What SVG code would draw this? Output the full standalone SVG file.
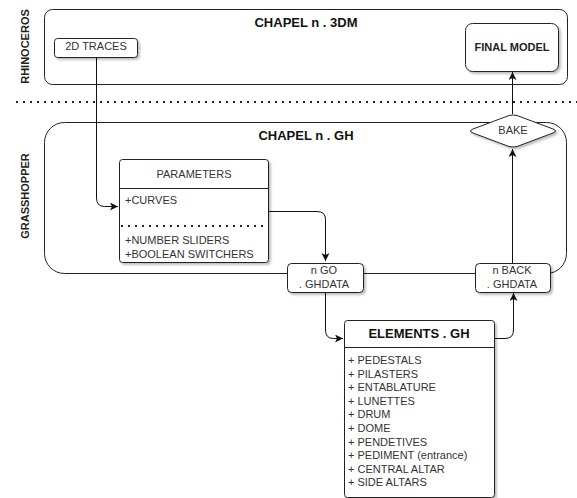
<svg xmlns="http://www.w3.org/2000/svg" width="577" height="498" viewBox="0 0 577 498">
<style>
text{font-family:"Liberation Sans",Arial,sans-serif;}
.lbl{font-size:11px;font-weight:bold;fill:#222;}
.ttl{font-size:13px;font-weight:bold;fill:#111;text-anchor:middle;}
.t{font-size:11px;fill:#333;}
.c{text-anchor:middle;}
.box{fill:#fff;stroke:#222;stroke-width:1;}
.cont{fill:#fff;stroke:#222;stroke-width:1;}
.edge{fill:none;stroke:#111;stroke-width:1;}
</style>
<defs>
<filter id="sh" x="-20%" y="-20%" width="150%" height="150%">
<feDropShadow dx="2" dy="2" stdDeviation="1" flood-color="#000" flood-opacity="0.25"/>
</filter>
<marker id="arr" markerWidth="10" markerHeight="10" refX="8" refY="4" orient="auto" markerUnits="userSpaceOnUse">
<path d="M0,0 L8,4 L0,8 L2,4 Z" fill="#111"/>
</marker>
</defs>

<g id="rhino-container">
<rect class="cont" x="44.5" y="9.5" width="523" height="75" rx="8"/>
<text class="ttl" x="306" y="27">CHAPEL n . 3DM</text>
<text class="lbl" transform="translate(28.5,46.5) rotate(-90)" text-anchor="middle">RHINOCEROS</text>
</g>

<g id="grasshopper-container">
<rect class="cont" x="44.5" y="122.5" width="522" height="151" rx="20"/>
<text class="ttl" x="306" y="140">CHAPEL n . GH</text>
<text class="lbl" transform="translate(29,196) rotate(-90)" text-anchor="middle">GRASSHOPPER</text>
</g>

<line id="separator" x1="16" y1="102" x2="577" y2="102" stroke="#222" stroke-width="2" stroke-dasharray="2 5"/>

<g id="connectors">
<path class="edge" d="M96.5,57 V198 Q96.5,206.5 104.5,206.5 H118" marker-end="url(#arr)"/>
<path class="edge" d="M268,211.5 H317 Q325.5,211.5 325.5,219.5 V261" marker-end="url(#arr)"/>
<path class="edge" d="M325.5,292 V330 Q325.5,338.5 333.5,338.5 H343" marker-end="url(#arr)"/>
<path class="edge" d="M494,338.5 H505 Q513.5,338.5 513.5,330 V293" marker-end="url(#arr)"/>
<path class="edge" d="M512.5,263 V149" marker-end="url(#arr)"/>
<path class="edge" d="M512.5,114 V72" marker-end="url(#arr)"/>
</g>

<g id="traces2d">
<rect class="box" filter="url(#sh)" x="54.5" y="38.5" width="83" height="19" rx="3"/>
<text class="t c" x="96" y="50">2D TRACES</text>
</g>

<g id="final-model">
<rect class="box" filter="url(#sh)" x="465.5" y="23.5" width="93" height="48" rx="7"/>
<text class="lbl c" x="512" y="51">FINAL MODEL</text>
</g>

<g id="bake">
<path class="box" filter="url(#sh)" d="M505,117 Q513,113 521,117 L553,129 Q558,131 553,133 L521,145 Q513,149 505,145 L473,133 Q468,131 473,129 Z"/>
<text class="t c" x="513" y="134">BAKE</text>
</g>

<g id="parameters">
<rect class="box" filter="url(#sh)" x="119.5" y="159.5" width="149" height="103" rx="3"/>
<line x1="119.5" y1="188.5" x2="268.5" y2="188.5" stroke="#222"/>
<text class="t c" x="194" y="178">PARAMETERS</text>
<text class="t" x="125" y="204">+CURVES</text>
<line x1="121" y1="226" x2="268" y2="226" stroke="#222" stroke-width="2" stroke-dasharray="2 5"/>
<text class="t" x="125" y="244">+NUMBER SLIDERS</text>
<text class="t" x="125" y="258">+BOOLEAN SWITCHERS</text>
</g>

<g id="n-go">
<rect class="box" filter="url(#sh)" x="287.5" y="263.5" width="76" height="29" rx="4"/>
<text class="t c" x="324" y="274">n GO</text>
<text class="t c" x="324" y="288">. GHDATA</text>
</g>

<g id="n-back">
<rect class="box" filter="url(#sh)" x="475.5" y="263.5" width="75" height="29" rx="4"/>
<text class="t c" x="512" y="274">n BACK</text>
<text class="t c" x="512" y="288">. GHDATA</text>
</g>

<g id="elements">
<rect class="box" filter="url(#sh)" x="344.5" y="320.5" width="150" height="177" rx="3"/>
<line x1="344.5" y1="347.5" x2="494.5" y2="347.5" stroke="#222"/>
<text class="ttl" x="419" y="338">ELEMENTS . GH</text>
<text class="t" x="348" y="364">+ PEDESTALS</text>
<text class="t" x="348" y="377.6">+ PILASTERS</text>
<text class="t" x="348" y="391.2">+ ENTABLATURE</text>
<text class="t" x="348" y="404.8">+ LUNETTES</text>
<text class="t" x="348" y="418.4">+ DRUM</text>
<text class="t" x="348" y="432">+ DOME</text>
<text class="t" x="348" y="445.6">+ PENDETIVES</text>
<text class="t" x="348" y="459.2">+ PEDIMENT (entrance)</text>
<text class="t" x="348" y="472.8">+ CENTRAL ALTAR</text>
<text class="t" x="348" y="486.4">+ SIDE ALTARS</text>
</g>
</svg>
